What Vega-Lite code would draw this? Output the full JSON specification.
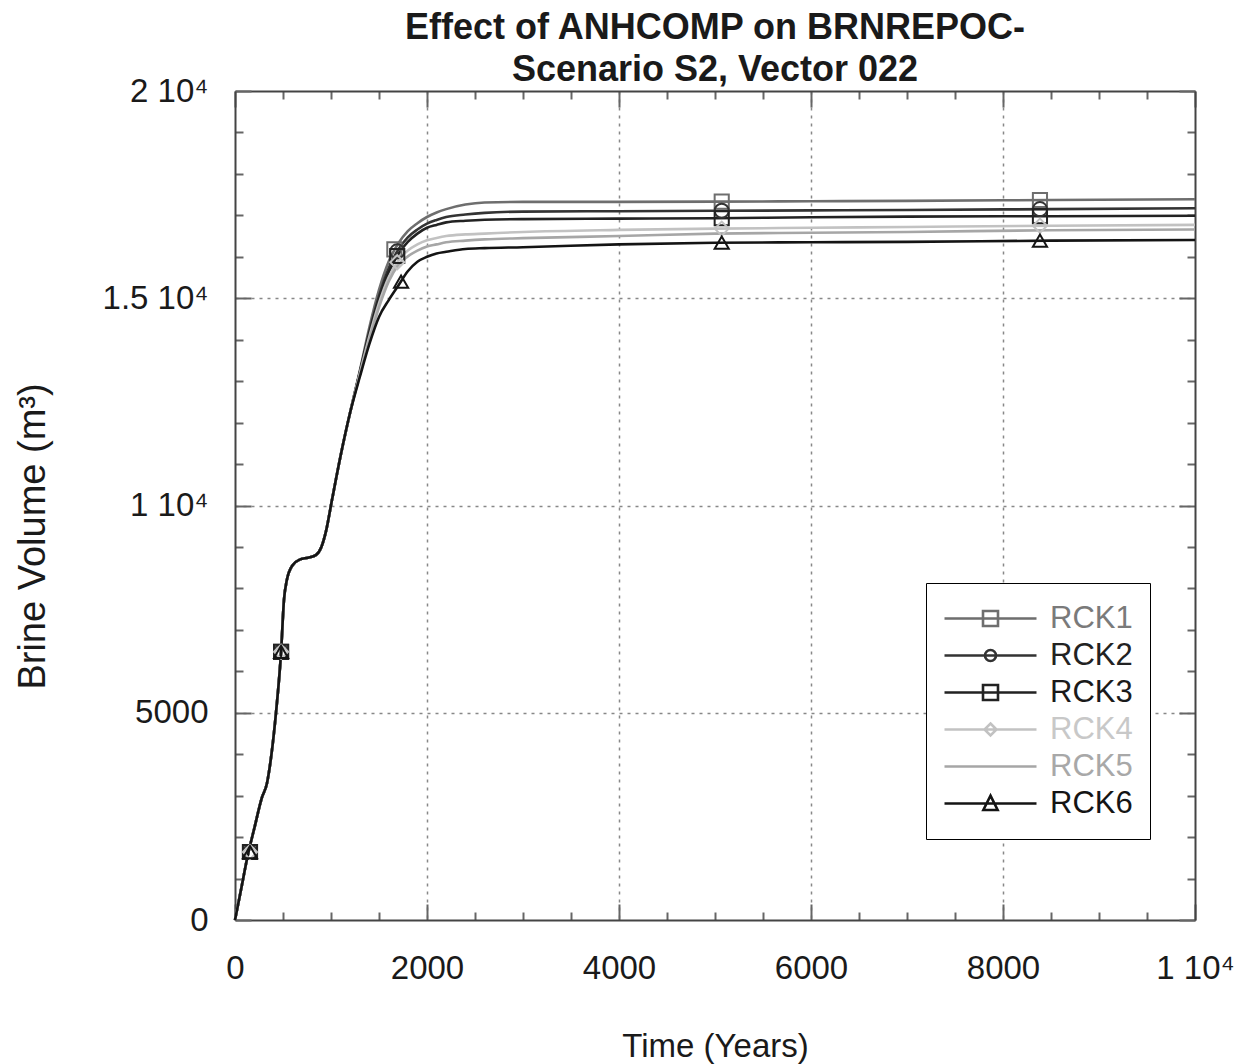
{
  "$schema": "https://vega.github.io/schema/vega-lite/v6.json",
  "width": 960,
  "height": 829,
  "autosize": "none",
  "padding": {"left": 235, "top": 91, "right": 51, "bottom": 144},
  "background": "white",
  "config": {"view": {"stroke": null}, "font": "Liberation Sans"},
  "title": {
    "text": ["Effect of ANHCOMP on BRNREPOC-", "Scenario S2, Vector 022"],
    "font": "Liberation Sans", "fontSize": 36, "fontWeight": "bold", "color": "#1a1a1a",
    "lineHeight": 42, "offset": 6, "dy": 20, "anchor": "middle"
  },
  "datasets": {
    "curves": [
      {"t": 0, "RCK1": 0, "RCK2": 0, "RCK3": 0, "RCK4": 0, "RCK5": 0, "RCK6": 0},
      {"t": 60, "RCK1": 700, "RCK2": 700, "RCK3": 700, "RCK4": 700, "RCK5": 700, "RCK6": 700},
      {"t": 135, "RCK1": 1580, "RCK2": 1580, "RCK3": 1580, "RCK4": 1580, "RCK5": 1580, "RCK6": 1580},
      {"t": 200, "RCK1": 2200, "RCK2": 2200, "RCK3": 2200, "RCK4": 2200, "RCK5": 2200, "RCK6": 2200},
      {"t": 280, "RCK1": 2950, "RCK2": 2950, "RCK3": 2950, "RCK4": 2950, "RCK5": 2950, "RCK6": 2950},
      {"t": 333, "RCK1": 3300, "RCK2": 3300, "RCK3": 3300, "RCK4": 3300, "RCK5": 3300, "RCK6": 3300},
      {"t": 380, "RCK1": 4000, "RCK2": 4000, "RCK3": 4000, "RCK4": 4000, "RCK5": 4000, "RCK6": 4000},
      {"t": 427, "RCK1": 5000, "RCK2": 5000, "RCK3": 5000, "RCK4": 5000, "RCK5": 5000, "RCK6": 5000},
      {"t": 480, "RCK1": 6470, "RCK2": 6470, "RCK3": 6470, "RCK4": 6470, "RCK5": 6470, "RCK6": 6470},
      {"t": 510, "RCK1": 7720, "RCK2": 7720, "RCK3": 7720, "RCK4": 7720, "RCK5": 7720, "RCK6": 7720},
      {"t": 540, "RCK1": 8200, "RCK2": 8200, "RCK3": 8200, "RCK4": 8200, "RCK5": 8200, "RCK6": 8200},
      {"t": 600, "RCK1": 8560, "RCK2": 8560, "RCK3": 8560, "RCK4": 8560, "RCK5": 8560, "RCK6": 8560},
      {"t": 680, "RCK1": 8700, "RCK2": 8700, "RCK3": 8700, "RCK4": 8700, "RCK5": 8700, "RCK6": 8700},
      {"t": 760, "RCK1": 8740, "RCK2": 8740, "RCK3": 8740, "RCK4": 8740, "RCK5": 8740, "RCK6": 8740},
      {"t": 845, "RCK1": 8810, "RCK2": 8810, "RCK3": 8810, "RCK4": 8810, "RCK5": 8810, "RCK6": 8810},
      {"t": 900, "RCK1": 9000, "RCK2": 9000, "RCK3": 9000, "RCK4": 9000, "RCK5": 9000, "RCK6": 9000},
      {"t": 950, "RCK1": 9400, "RCK2": 9400, "RCK3": 9400, "RCK4": 9400, "RCK5": 9400, "RCK6": 9400},
      {"t": 1010, "RCK1": 10130, "RCK2": 10130, "RCK3": 10130, "RCK4": 10130, "RCK5": 10130, "RCK6": 10130},
      {"t": 1100, "RCK1": 11200, "RCK2": 11200, "RCK3": 11200, "RCK4": 11200, "RCK5": 11200, "RCK6": 11200},
      {"t": 1200, "RCK1": 12250, "RCK2": 12250, "RCK3": 12250, "RCK4": 12250, "RCK5": 12250, "RCK6": 12250},
      {"t": 1300, "RCK1": 13250, "RCK2": 13220, "RCK3": 13200, "RCK4": 13180, "RCK5": 13150, "RCK6": 13100},
      {"t": 1400, "RCK1": 14300, "RCK2": 14200, "RCK3": 14150, "RCK4": 14080, "RCK5": 14000, "RCK6": 13900},
      {"t": 1500, "RCK1": 15200, "RCK2": 15050, "RCK3": 14980, "RCK4": 14880, "RCK5": 14780, "RCK6": 14550},
      {"t": 1600, "RCK1": 15880, "RCK2": 15720, "RCK3": 15620, "RCK4": 15500, "RCK5": 15400, "RCK6": 14950},
      {"t": 1700, "RCK1": 16320, "RCK2": 16170, "RCK3": 16060, "RCK4": 15900, "RCK5": 15800, "RCK6": 15300},
      {"t": 1800, "RCK1": 16620, "RCK2": 16470, "RCK3": 16360, "RCK4": 16150, "RCK5": 16010, "RCK6": 15650},
      {"t": 1900, "RCK1": 16810, "RCK2": 16660, "RCK3": 16560, "RCK4": 16300, "RCK5": 16150, "RCK6": 15880},
      {"t": 2000, "RCK1": 16960, "RCK2": 16800, "RCK3": 16700, "RCK4": 16400, "RCK5": 16250, "RCK6": 16000},
      {"t": 2100, "RCK1": 17070, "RCK2": 16890, "RCK3": 16770, "RCK4": 16455, "RCK5": 16300, "RCK6": 16080},
      {"t": 2200, "RCK1": 17150, "RCK2": 16960, "RCK3": 16830, "RCK4": 16500, "RCK5": 16350, "RCK6": 16120},
      {"t": 2400, "RCK1": 17260, "RCK2": 17020, "RCK3": 16870, "RCK4": 16540, "RCK5": 16390, "RCK6": 16190},
      {"t": 2600, "RCK1": 17310, "RCK2": 17060, "RCK3": 16895, "RCK4": 16560, "RCK5": 16420, "RCK6": 16210},
      {"t": 3000, "RCK1": 17325, "RCK2": 17090, "RCK3": 16910, "RCK4": 16600, "RCK5": 16450, "RCK6": 16230},
      {"t": 4000, "RCK1": 17325, "RCK2": 17100, "RCK3": 16920, "RCK4": 16650, "RCK5": 16500, "RCK6": 16300},
      {"t": 5000, "RCK1": 17330, "RCK2": 17110, "RCK3": 16930, "RCK4": 16680, "RCK5": 16560, "RCK6": 16340},
      {"t": 6000, "RCK1": 17340, "RCK2": 17120, "RCK3": 16955, "RCK4": 16700, "RCK5": 16580, "RCK6": 16350},
      {"t": 7000, "RCK1": 17350, "RCK2": 17130, "RCK3": 16970, "RCK4": 16720, "RCK5": 16600, "RCK6": 16360},
      {"t": 8500, "RCK1": 17370, "RCK2": 17150, "RCK3": 16980, "RCK4": 16750, "RCK5": 16640, "RCK6": 16390},
      {"t": 10000, "RCK1": 17390, "RCK2": 17170, "RCK3": 16990, "RCK4": 16770, "RCK5": 16660, "RCK6": 16405}
    ],
    "markers": [
      {"s": "RCK1", "t": 156, "v": 1640}, {"s": "RCK1", "t": 480, "v": 6470}, {"s": "RCK1", "t": 1660, "v": 16180}, {"s": "RCK1", "t": 5070, "v": 17330}, {"s": "RCK1", "t": 8385, "v": 17370},
      {"s": "RCK2", "t": 156, "v": 1640}, {"s": "RCK2", "t": 480, "v": 6470}, {"s": "RCK2", "t": 1690, "v": 16130}, {"s": "RCK2", "t": 5070, "v": 17110}, {"s": "RCK2", "t": 8385, "v": 17150},
      {"s": "RCK3", "t": 156, "v": 1640}, {"s": "RCK3", "t": 480, "v": 6470}, {"s": "RCK3", "t": 1690, "v": 16020}, {"s": "RCK3", "t": 5070, "v": 16930}, {"s": "RCK3", "t": 8385, "v": 16980},
      {"s": "RCK4", "t": 156, "v": 1640}, {"s": "RCK4", "t": 480, "v": 6470}, {"s": "RCK4", "t": 1690, "v": 15870}, {"s": "RCK4", "t": 5070, "v": 16680}, {"s": "RCK4", "t": 8385, "v": 16750},
      {"s": "RCK6", "t": 156, "v": 1640}, {"s": "RCK6", "t": 480, "v": 6470}, {"s": "RCK6", "t": 1730, "v": 15400}, {"s": "RCK6", "t": 5070, "v": 16340}, {"s": "RCK6", "t": 8385, "v": 16390}
    ]
  },
  "layer": [
    {
      "data": {"name": "curves"},
      "transform": [{"fold": ["RCK1", "RCK2", "RCK3", "RCK4", "RCK5", "RCK6"], "as": ["s", "v"]}],
      "mark": {"type": "line", "strokeWidth": 2.6, "interpolate": "monotone"},
      "encoding": {
        "x": {
          "field": "t", "type": "quantitative",
          "scale": {"domain": [0, 10000], "nice": false, "zero": false},
          "axis": {
            "orient": "bottom",
            "values": [0, 500, 1000, 1500, 2000, 2500, 3000, 3500, 4000, 4500, 5000, 5500, 6000, 6500, 7000, 7500, 8000, 8500, 9000, 9500, 10000],
            "labelExpr": "datum.value === 10000 ? '1 10⁴' : (datum.value % 2000 === 0 ? '' + datum.value : '')",
            "labelFont": "Liberation Sans", "labelFontSize": 33, "labelColor": "#1a1a1a",
            "labelPadding": 48, "labelFlush": false, "labelOverlap": false,
            "tickSize": {"condition": {"test": "datum.value % 2000 === 0", "value": -16}, "value": -8},
            "tickColor": "#666", "tickWidth": 2,
            "grid": true, "gridDash": [3, 5], "gridColor": "#888", "gridWidth": 1.5,
            "gridOpacity": {"condition": {"test": "datum.value % 2000 === 0 && datum.value > 0 && datum.value < 10000", "value": 1}, "value": 0},
            "domainColor": "#444", "domainWidth": 2,
            "title": "Time (Years)", "titleFont": "Liberation Sans", "titleFontSize": 33, "titleFontWeight": "normal", "titleColor": "#1a1a1a",
            "titleX": 480, "titleY": 136, "titleBaseline": "alphabetic", "titleAnchor": "middle"
          }
        },
        "y": {
          "field": "v", "type": "quantitative",
          "scale": {"domain": [0, 20000], "nice": false},
          "axis": {
            "orient": "left",
            "values": [0, 1000, 2000, 3000, 4000, 5000, 6000, 7000, 8000, 9000, 10000, 11000, 12000, 13000, 14000, 15000, 16000, 17000, 18000, 19000, 20000],
            "labelExpr": "datum.value === 20000 ? '2 10⁴' : datum.value === 15000 ? '1.5 10⁴' : datum.value === 10000 ? '1 10⁴' : datum.value === 5000 ? '5000' : datum.value === 0 ? '0' : ''",
            "labelFont": "Liberation Sans", "labelFontSize": 33, "labelColor": "#1a1a1a",
            "labelPadding": 43, "labelFlush": false, "labelOverlap": false,
            "tickSize": {"condition": {"test": "datum.value % 5000 === 0", "value": -16}, "value": -8},
            "tickColor": "#666", "tickWidth": 2,
            "grid": true, "gridDash": [3, 5], "gridColor": "#888", "gridWidth": 1.5,
            "gridOpacity": {"condition": {"test": "datum.value % 5000 === 0 && datum.value > 0 && datum.value < 20000", "value": 1}, "value": 0},
            "domainColor": "#444", "domainWidth": 2,
            "title": "Brine Volume (m³)", "titleFont": "Liberation Sans", "titleFontSize": 38, "titleFontWeight": "normal", "titleColor": "#1a1a1a",
            "titleX": -191, "titleY": 445, "titleBaseline": "alphabetic", "titleAngle": 270, "titleAnchor": "middle"
          }
        },
        "color": {
          "field": "s", "type": "nominal", "legend": null,
          "scale": {"domain": ["RCK1", "RCK2", "RCK3", "RCK4", "RCK5", "RCK6"], "range": ["#6e6e6e", "#333333", "#222222", "#c2c2c2", "#a6a6a6", "#141414"]}
        }
      }
    },
    {
      "data": {"name": "markers"},
      "mark": {"type": "point", "filled": false, "size": 200, "strokeWidth": 2, "opacity": 1},
      "encoding": {
        "x": {
          "field": "t", "type": "quantitative",
          "axis": {
            "orient": "top",
            "values": [0, 500, 1000, 1500, 2000, 2500, 3000, 3500, 4000, 4500, 5000, 5500, 6000, 6500, 7000, 7500, 8000, 8500, 9000, 9500, 10000],
            "labels": false, "title": null, "grid": false,
            "tickSize": {"condition": {"test": "datum.value % 2000 === 0", "value": -16}, "value": -8},
            "tickColor": "#666", "tickWidth": 2,
            "domainColor": "#444", "domainWidth": 2
          }
        },
        "y": {
          "field": "v", "type": "quantitative",
          "axis": {
            "orient": "right",
            "values": [0, 1000, 2000, 3000, 4000, 5000, 6000, 7000, 8000, 9000, 10000, 11000, 12000, 13000, 14000, 15000, 16000, 17000, 18000, 19000, 20000],
            "labels": false, "title": null, "grid": false,
            "tickSize": {"condition": {"test": "datum.value % 5000 === 0", "value": -16}, "value": -8},
            "tickColor": "#666", "tickWidth": 2,
            "domainColor": "#444", "domainWidth": 2
          }
        },
        "color": {"field": "s", "type": "nominal", "legend": null},
        "shape": {
          "field": "s", "type": "nominal", "legend": null,
          "scale": {"domain": ["RCK1", "RCK2", "RCK3", "RCK4", "RCK6"], "range": ["square", "circle", "square", "diamond", "triangle-up"]}
        }
      }
    },
    {
      "data": {"name": "curves"},
      "transform": [{"fold": ["RCK1", "RCK2", "RCK3", "RCK4", "RCK5", "RCK6"], "as": ["s", "v"]}],
      "mark": {"type": "point", "filled": false, "opacity": 0, "strokeWidth": 2.5},
      "encoding": {
        "x": {"field": "t", "type": "quantitative", "axis": null},
        "y": {"field": "v", "type": "quantitative", "axis": null},
        "shape": {
          "field": "s", "type": "nominal",
          "scale": {
            "domain": ["RCK1", "RCK2", "RCK3", "RCK4", "RCK5", "RCK6"],
            "range": [
              "M-1,0H1M-0.163,-0.163H0.163V0.163H-0.163Z",
              "M-1,0H1M-0.12,0A0.12,0.12,0,1,0,0.12,0A0.12,0.12,0,1,0,-0.12,0Z",
              "M-1,0H1M-0.163,-0.163H0.163V0.163H-0.163Z",
              "M-1,0H1M0,-0.13L0.13,0L0,0.13L-0.13,0Z",
              "M-1,0H1",
              "M-1,0H1M0,-0.17L0.155,0.14H-0.155Z"
            ]
          },
          "legend": {
            "orient": "none", "legendX": 691, "legendY": 492,
            "title": null,
            "symbolSize": 8464, "symbolStrokeWidth": 2.6, "symbolFillColor": "transparent", "symbolOpacity": 1,
            "symbolStrokeColor": {"expr": "datum.value === 'RCK1' ? '#6e6e6e' : datum.value === 'RCK2' ? '#333333' : datum.value === 'RCK3' ? '#222222' : datum.value === 'RCK4' ? '#c2c2c2' : datum.value === 'RCK5' ? '#a6a6a6' : '#141414'"},
            "labelColor": {"expr": "datum.value === 'RCK1' ? '#7a7a7a' : datum.value === 'RCK2' ? '#222222' : datum.value === 'RCK3' ? '#1a1a1a' : datum.value === 'RCK4' ? '#c8c8c8' : datum.value === 'RCK5' ? '#a8a8a8' : '#141414'"},
            "clipHeight": 37, "rowPadding": 0,
            "labelFont": "Liberation Sans", "labelFontSize": 31, "labelOffset": 12, "labelLimit": 300,
            "padding": 17, "strokeColor": "#000", "fillColor": "white", "cornerRadius": 0
          }
        }
      }
    }
  ],
  "resolve": {"scale": {"shape": "independent"}}
}
